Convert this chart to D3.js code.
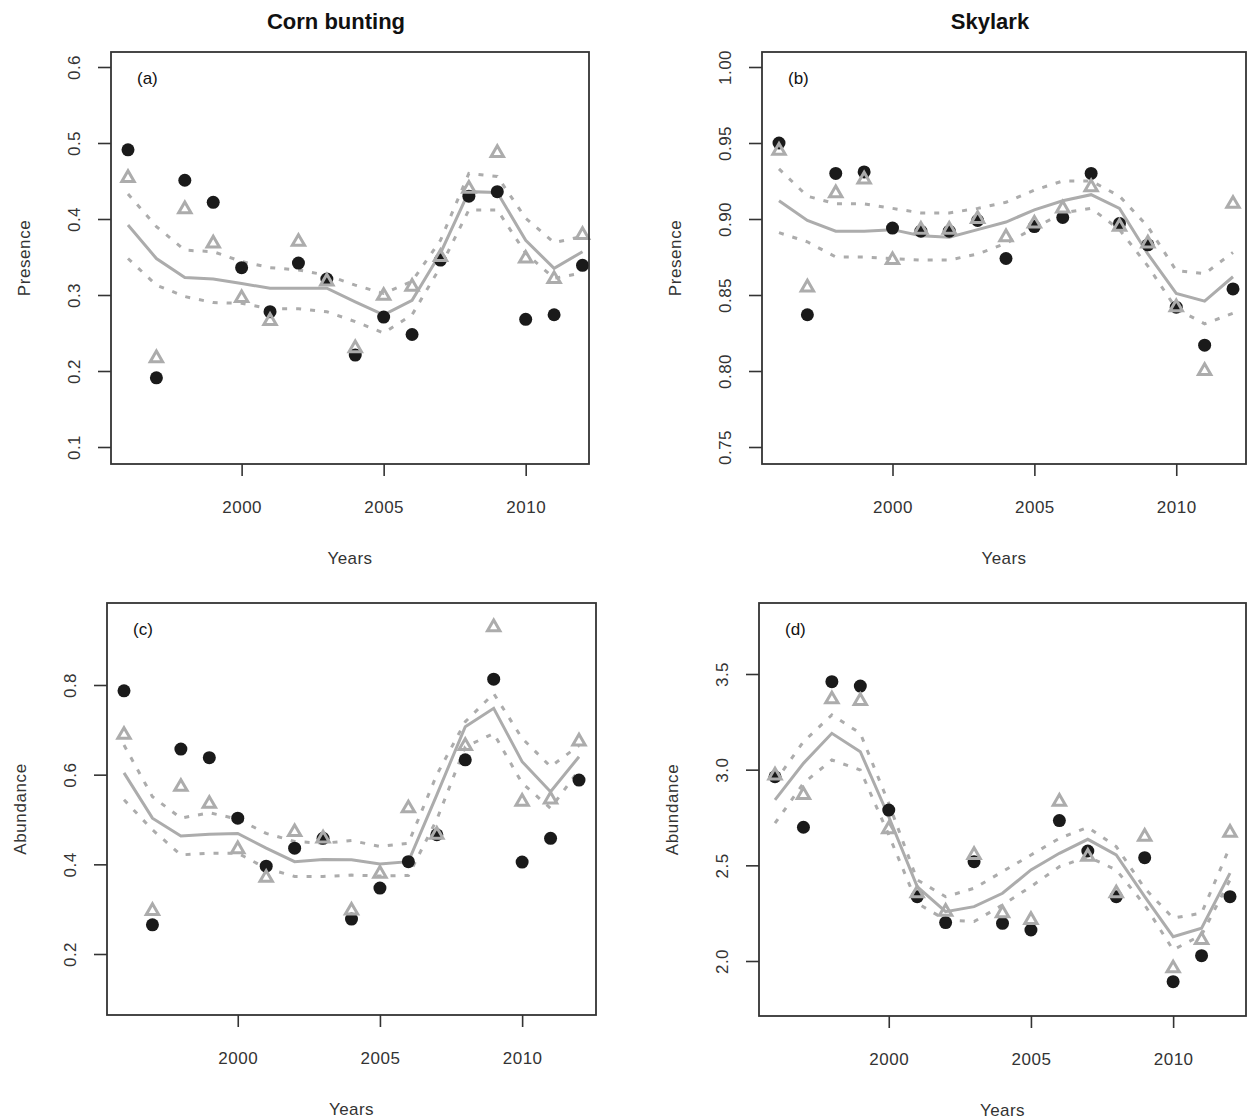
<!DOCTYPE html>
<html>
<head>
<meta charset="utf-8">
<script src="https://cdn.jsdelivr.net/npm/d3@7"></script>
<style>
  body { margin: 0; background: #fff; }
  svg { font-family: "Liberation Sans", Arial, sans-serif; }
</style>
</head>
<body>
<svg width="1248" height="1119"></svg>
<script>
var years = [1996, 1997, 1998, 1999, 2000, 2001, 2002, 2003, 2004, 2005, 2006, 2007, 2008, 2009, 2010, 2011, 2012];
var yearTicks = [2000, 2005, 2010];

// corn bunting, presence
var cbPresObs = [0.491, 0.191, 0.451, 0.422, 0.336, 0.278, 0.342, 0.321, 0.221, 0.271, 0.248, 0.346, 0.430, 0.436, 0.268, 0.274, 0.339];
var cbPresTri = [0.454, 0.217, 0.413, 0.368, 0.296, 0.266, 0.370, 0.318, 0.230, 0.299, 0.311, 0.350, 0.440, 0.487, 0.348, 0.321, 0.379];
var cbPresFit = [0.392, 0.348, 0.323, 0.321, 0.315, 0.309, 0.309, 0.309, 0.291, 0.274, 0.293, 0.355, 0.436, 0.435, 0.372, 0.335, 0.357];
var cbPresHi  = [0.433, 0.390, 0.359, 0.357, 0.344, 0.336, 0.333, 0.326, 0.313, 0.302, 0.318, 0.372, 0.460, 0.456, 0.401, 0.369, 0.377];
var cbPresLo  = [0.348, 0.313, 0.298, 0.290, 0.289, 0.282, 0.282, 0.278, 0.265, 0.250, 0.274, 0.337, 0.412, 0.412, 0.355, 0.322, 0.329];

// skylark, presence
var skPresObs = [0.950, 0.837, 0.930, 0.931, 0.894, 0.892, 0.892, 0.899, 0.874, 0.895, 0.901, 0.930, 0.897, 0.883, 0.842, 0.817, 0.854];
var skPresTri = [0.945, 0.855, 0.917, 0.926, 0.873, 0.893, 0.893, 0.900, 0.888, 0.897, 0.907, 0.921, 0.895, 0.884, 0.842, 0.800, 0.910];
var skPresFit = [0.912, 0.899, 0.892, 0.892, 0.893, 0.889, 0.888, 0.893, 0.898, 0.906, 0.912, 0.916, 0.907, 0.877, 0.851, 0.846, 0.862];
var skPresHi  = [0.933, 0.915, 0.910, 0.910, 0.907, 0.904, 0.904, 0.907, 0.911, 0.919, 0.925, 0.925, 0.915, 0.895, 0.866, 0.864, 0.878];
var skPresLo  = [0.891, 0.885, 0.875, 0.875, 0.874, 0.873, 0.873, 0.877, 0.884, 0.894, 0.904, 0.907, 0.893, 0.869, 0.841, 0.831, 0.838];

// corn bunting, abundance
var cbAbunObs = [0.787, 0.265, 0.657, 0.638, 0.503, 0.396, 0.436, 0.458, 0.278, 0.347, 0.406, 0.466, 0.633, 0.813, 0.405, 0.458, 0.588];
var cbAbunTri = [0.689, 0.296, 0.573, 0.535, 0.434, 0.370, 0.472, 0.458, 0.297, 0.379, 0.525, 0.466, 0.664, 0.929, 0.540, 0.545, 0.674];
var cbAbunFit = [0.604, 0.503, 0.463, 0.467, 0.469, 0.436, 0.406, 0.411, 0.410, 0.401, 0.406, 0.555, 0.707, 0.748, 0.629, 0.562, 0.640];
var cbAbunHi  = [0.666, 0.551, 0.503, 0.515, 0.501, 0.469, 0.451, 0.447, 0.453, 0.440, 0.447, 0.600, 0.718, 0.781, 0.681, 0.618, 0.665];
var cbAbunLo  = [0.544, 0.477, 0.421, 0.425, 0.425, 0.391, 0.373, 0.373, 0.376, 0.374, 0.375, 0.500, 0.662, 0.692, 0.581, 0.525, 0.610];

// skylark, abundance
var skAbunObs = [2.963, 2.699, 3.460, 3.437, 2.789, 2.336, 2.201, 2.519, 2.197, 2.162, 2.734, 2.575, 2.336, 2.540, 1.892, 2.028, 2.336];
var skAbunTri = [2.970, 2.868, 3.368, 3.359, 2.689, 2.354, 2.258, 2.554, 2.250, 2.215, 2.833, 2.545, 2.354, 2.650, 1.962, 2.110, 2.671];
var skAbunFit = [2.842, 3.033, 3.190, 3.094, 2.754, 2.389, 2.258, 2.284, 2.354, 2.476, 2.563, 2.636, 2.554, 2.336, 2.127, 2.171, 2.459];
var skAbunHi  = [2.937, 3.146, 3.286, 3.190, 2.824, 2.424, 2.336, 2.380, 2.467, 2.554, 2.641, 2.699, 2.598, 2.380, 2.224, 2.250, 2.598];
var skAbunLo  = [2.720, 2.929, 3.051, 2.998, 2.659, 2.302, 2.215, 2.206, 2.293, 2.389, 2.493, 2.545, 2.476, 2.293, 2.058, 2.136, 2.424];

var presTicksCb = [0.1, 0.2, 0.3, 0.4, 0.5, 0.6];
var presTicksSk = [0.75, 0.80, 0.85, 0.90, 0.95, 1.00];
var abunTicksCb = [0.2, 0.4, 0.6, 0.8];
var abunTicksSk = [2.0, 2.5, 3.0, 3.5];

var grey = "#acacac", ink = "#333";

var panels = [
  { tag: "(a)", ylab: "Presence", box: [111, 52, 589, 464], xr: [128, 582.5], yd: [0.1, 0.6], yr: [447, 67],
    ticks: presTicksCb, fmt: d3.format(".1f"), obs: cbPresObs, tri: cbPresTri, fit: cbPresFit, hi: cbPresHi, lo: cbPresLo },
  { tag: "(b)", ylab: "Presence", box: [762, 52, 1246, 464], xr: [779, 1233], yd: [0.75, 1.00], yr: [447, 67],
    ticks: presTicksSk, fmt: d3.format(".2f"), obs: skPresObs, tri: skPresTri, fit: skPresFit, hi: skPresHi, lo: skPresLo },
  { tag: "(c)", ylab: "Abundance", box: [107, 603, 596, 1015], xr: [124, 579], yd: [0.2, 0.8], yr: [954, 685],
    ticks: abunTicksCb, fmt: d3.format(".1f"), obs: cbAbunObs, tri: cbAbunTri, fit: cbAbunFit, hi: cbAbunHi, lo: cbAbunLo },
  { tag: "(d)", ylab: "Abundance", box: [759, 603, 1246, 1016], xr: [775, 1230], yd: [2.0, 3.5], yr: [961, 674],
    ticks: abunTicksSk, fmt: d3.format(".1f"), obs: skAbunObs, tri: skAbunTri, fit: skAbunFit, hi: skAbunHi, lo: skAbunLo }
];

var svg = d3.select("svg");

svg.append("text").attr("x", 336).attr("y", 21).attr("dy", "0.35em")
   .attr("text-anchor", "middle").attr("font-size", 22).attr("font-weight", "bold")
   .attr("fill", "#111").text("Corn bunting");
svg.append("text").attr("x", 990).attr("y", 21).attr("dy", "0.35em")
   .attr("text-anchor", "middle").attr("font-size", 22).attr("font-weight", "bold")
   .attr("fill", "#111").text("Skylark");

var tri = d3.symbol().type(d3.symbolTriangle).size(66);

panels.forEach(function(p) {
  var x0 = p.box[0], y0 = p.box[1], x1 = p.box[2], y1 = p.box[3];
  var x = d3.scaleLinear().domain([1996, 2012]).range(p.xr);
  var y = d3.scaleLinear().domain(p.yd).range(p.yr);
  var g = svg.append("g");

  var line = function(vals) {
    return d3.line()
      .x(function(d, i) { return x(years[i]); })
      .y(function(d) { return y(d); })(vals);
  };

  // fitted trend and confidence band
  g.append("path").attr("d", line(p.fit)).attr("fill", "none")
   .attr("stroke", grey).attr("stroke-width", 3);
  [p.hi, p.lo].forEach(function(s) {
    g.append("path").attr("d", line(s)).attr("fill", "none")
     .attr("stroke", grey).attr("stroke-width", 3).attr("stroke-dasharray", "5,9");
  });

  g.selectAll(".dot").data(p.obs).enter().append("circle")
   .attr("cx", function(d, i) { return x(years[i]); })
   .attr("cy", function(d) { return y(d); })
   .attr("r", 6.5).attr("fill", "#1a1a1a");

  g.selectAll(".tri").data(p.tri).enter().append("path")
   .attr("d", tri)
   .attr("transform", function(d, i) { return "translate(" + x(years[i]) + "," + y(d) + ")"; })
   .attr("fill", "none").attr("stroke", grey).attr("stroke-width", 3);

  g.append("rect").attr("x", x0).attr("y", y0).attr("width", x1 - x0).attr("height", y1 - y0)
   .attr("fill", "none").attr("stroke", ink).attr("stroke-width", 1.8);

  var xa = g.append("g").attr("transform", "translate(0," + y1 + ")")
    .call(d3.axisBottom(x).tickValues(yearTicks).tickFormat(d3.format("d")).tickSize(12).tickSizeOuter(0));
  xa.select(".domain").remove();
  xa.selectAll("line").attr("stroke", ink).attr("stroke-width", 1.6);
  xa.selectAll("text").attr("y", 43).attr("dy", "0.35em").attr("font-size", 17)
    .attr("fill", ink).attr("letter-spacing", "0.5px");

  var ya = g.append("g").attr("transform", "translate(" + x0 + ",0)")
    .call(d3.axisLeft(y).tickValues(p.ticks).tickFormat(p.fmt).tickSize(13).tickSizeOuter(0));
  ya.select(".domain").remove();
  ya.selectAll("line").attr("stroke", ink).attr("stroke-width", 1.6);
  ya.selectAll("text").attr("x", null).attr("dy", "0.35em")
    .attr("transform", "translate(-37,0) rotate(-90)")
    .attr("text-anchor", "middle").attr("font-size", 17).attr("fill", ink)
    .attr("letter-spacing", "0.5px");

  g.append("text").attr("x", (x0 + x1) / 2).attr("y", y1 + 94).attr("dy", "0.35em")
   .attr("text-anchor", "middle").attr("font-size", 17).attr("fill", ink)
   .attr("letter-spacing", "0.4px").text("Years");

  g.append("text").attr("transform", "translate(" + (x0 - 87) + "," + ((y0 + y1) / 2) + ") rotate(-90)")
   .attr("dy", "0.35em").attr("text-anchor", "middle").attr("font-size", 17)
   .attr("fill", ink).attr("letter-spacing", "0.6px").text(p.ylab);

  g.append("text").attr("x", x0 + 26).attr("y", y0 + 26).attr("dy", "0.35em")
   .attr("font-size", 17).attr("fill", "#111").text(p.tag);
});
</script>
</body>
</html>
